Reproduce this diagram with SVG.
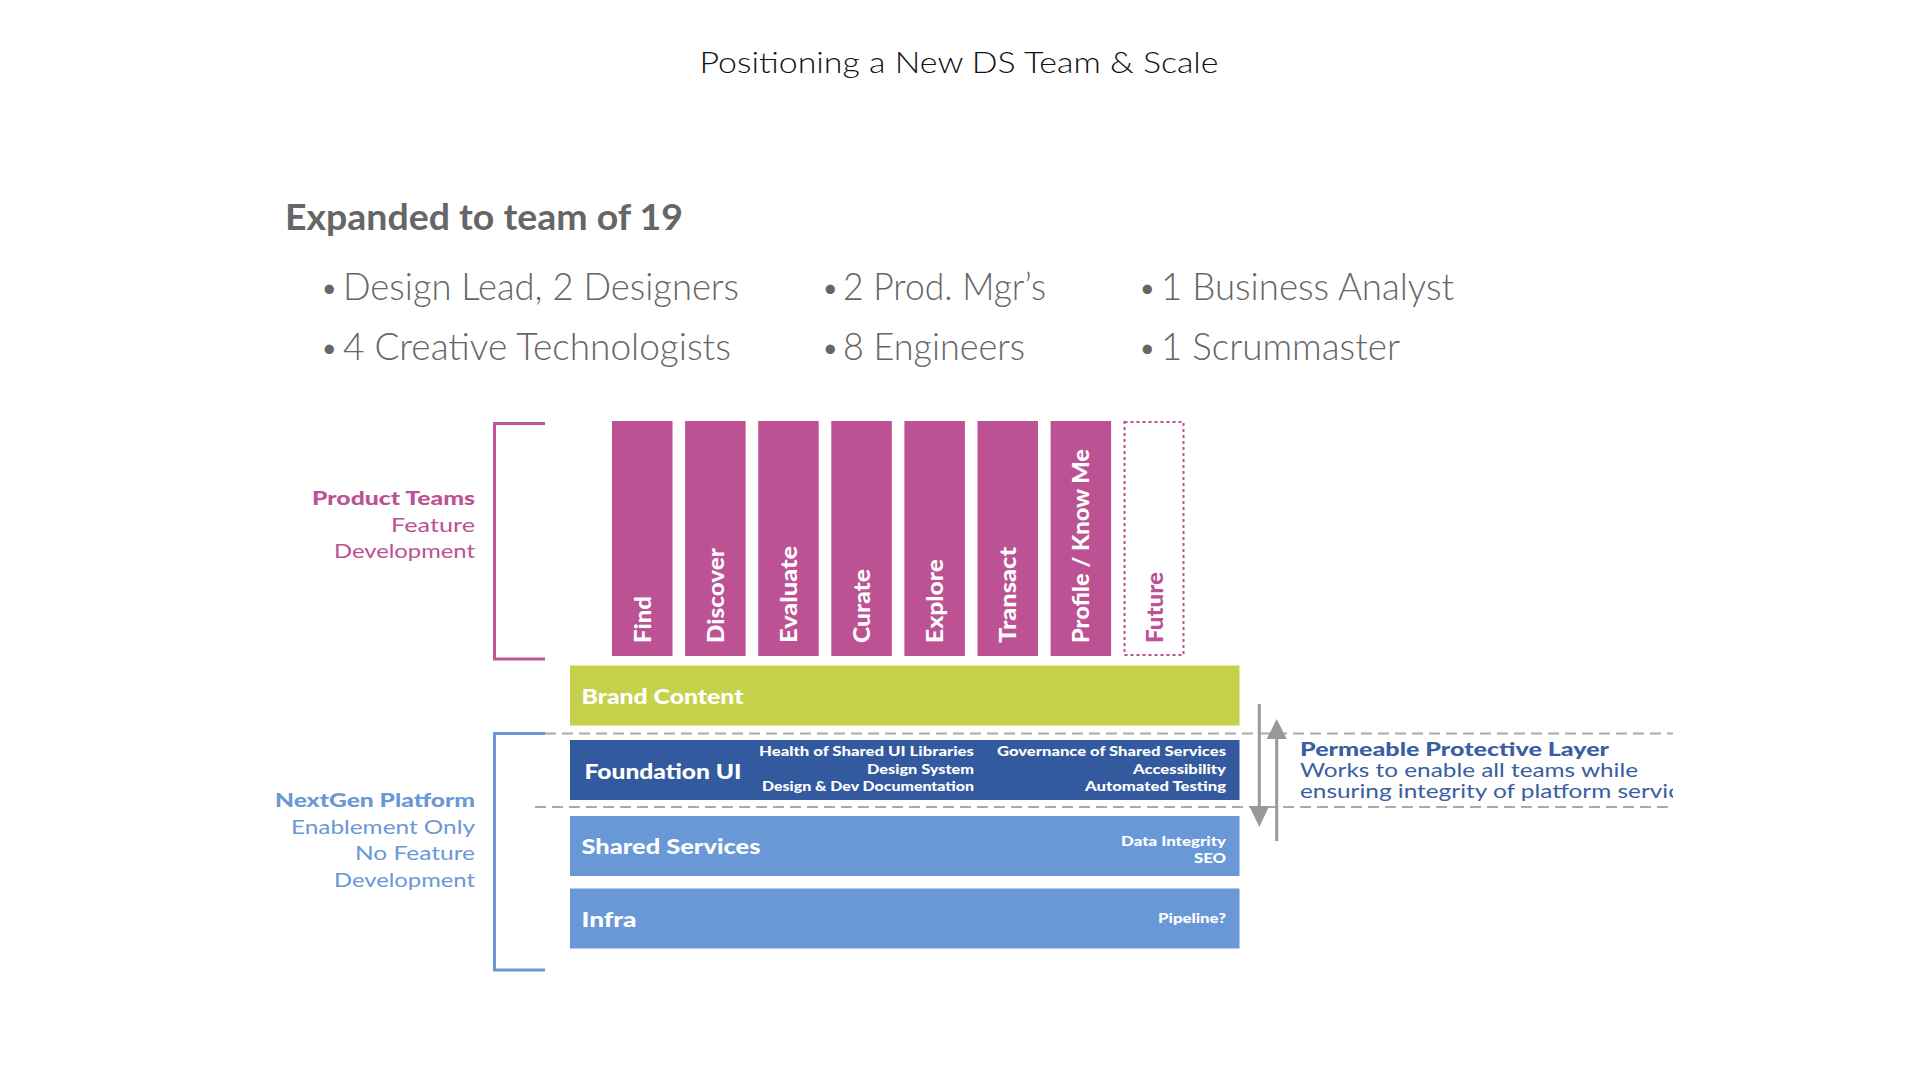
<svg xmlns="http://www.w3.org/2000/svg" width="1918" height="1080" viewBox="0 0 1918 1080">
<style>
.title{font-family:Lato,"Liberation Sans",sans-serif;font-weight:300;font-size:30px;fill:#111}
.head{font-family:Lato,"Liberation Sans",sans-serif;font-weight:700;font-size:37px;fill:#666}
.bul{font-family:Lato,"Liberation Sans",sans-serif;font-weight:300;font-size:38px;fill:#666}
.dot{font-family:Lato,"Liberation Sans",sans-serif;font-weight:400;font-size:25px;fill:#666}
.bar{fill:#BC5194}
.barlbl{font-family:Lato,"Liberation Sans",sans-serif;font-weight:900;font-size:23.5px;fill:#fff}
.futlbl{font-family:Lato,"Liberation Sans",sans-serif;font-weight:900;font-size:23.5px;fill:#BC5194}
.lyr{font-family:Lato,"Liberation Sans",sans-serif;font-weight:900;font-size:21px;fill:#fff}
.det{font-family:Lato,"Liberation Sans",sans-serif;font-weight:900;font-size:12.5px;fill:#fff}
.pLbl{font-family:Lato,"Liberation Sans",sans-serif;font-size:19px}
.bold{font-weight:900}
.light{font-weight:400}
.dash{stroke:#aaa;stroke-width:2;stroke-dasharray:11 6;fill:none}
.arr{stroke:#999;stroke-width:3;fill:none}
.perm{font-family:Lato,"Liberation Sans",sans-serif;font-size:19px;fill:#3A5DA3}
</style>
<defs>
<clipPath id="clipR"><rect x="0" y="0" width="1673" height="1080"/></clipPath>
</defs>
<rect width="1918" height="1080" fill="#fff"/>

<text class="title" x="959" y="73" text-anchor="middle" textLength="519" lengthAdjust="spacingAndGlyphs">Positioning a New DS Team &amp; Scale</text>

<g id="team">
<text class="head" x="285" y="230" textLength="398" lengthAdjust="spacingAndGlyphs">Expanded to team of 19</text>
<text class="dot" x="322" y="297">•</text>
<text class="bul" x="343" y="300" textLength="396" lengthAdjust="spacingAndGlyphs">Design Lead, 2 Designers</text>
<text class="dot" x="823" y="297">•</text>
<text class="bul" x="843" y="300" textLength="203" lengthAdjust="spacingAndGlyphs">2 Prod. Mgr’s</text>
<text class="dot" x="1140" y="297">•</text>
<text class="bul" x="1161" y="300" textLength="293" lengthAdjust="spacingAndGlyphs">1 Business Analyst</text>
<text class="dot" x="322" y="357">•</text>
<text class="bul" x="343" y="360" textLength="388" lengthAdjust="spacingAndGlyphs">4 Creative Technologists</text>
<text class="dot" x="823" y="357">•</text>
<text class="bul" x="843" y="360" textLength="182" lengthAdjust="spacingAndGlyphs">8 Engineers</text>
<text class="dot" x="1140" y="357">•</text>
<text class="bul" x="1161" y="360" textLength="239" lengthAdjust="spacingAndGlyphs">1 Scrummaster</text>
</g>

<g id="product-teams-label">
<path d="M545,423.5 H494.5 V659 H545" stroke="#BF5598" stroke-width="3" fill="none"/>
<g class="pLbl" fill="#BC5194">
<text class="bold" x="312" y="505" textLength="163" lengthAdjust="spacingAndGlyphs">Product Teams</text>
<text class="light" x="391" y="531.5" textLength="84" lengthAdjust="spacingAndGlyphs">Feature</text>
<text class="light" x="334" y="558" textLength="141" lengthAdjust="spacingAndGlyphs">Development</text>
</g>
</g>

<g id="bar-find"><rect class="bar" x="612" y="421" width="60.5" height="235"/><text class="barlbl" transform="translate(650.5,643) rotate(-90)" textLength="47" lengthAdjust="spacingAndGlyphs">Find</text></g>
<g id="bar-discover"><rect class="bar" x="685.1" y="421" width="60.5" height="235"/><text class="barlbl" transform="translate(723.6,643) rotate(-90)" textLength="95" lengthAdjust="spacingAndGlyphs">Discover</text></g>
<g id="bar-evaluate"><rect class="bar" x="758.2" y="421" width="60.5" height="235"/><text class="barlbl" transform="translate(796.7,643) rotate(-90)" textLength="97" lengthAdjust="spacingAndGlyphs">Evaluate</text></g>
<g id="bar-curate"><rect class="bar" x="831.3" y="421" width="60.5" height="235"/><text class="barlbl" transform="translate(869.8,643) rotate(-90)" textLength="74" lengthAdjust="spacingAndGlyphs">Curate</text></g>
<g id="bar-explore"><rect class="bar" x="904.4" y="421" width="60.5" height="235"/><text class="barlbl" transform="translate(942.9,643) rotate(-90)" textLength="84" lengthAdjust="spacingAndGlyphs">Explore</text></g>
<g id="bar-transact"><rect class="bar" x="977.5" y="421" width="60.5" height="235"/><text class="barlbl" transform="translate(1016,643) rotate(-90)" textLength="96" lengthAdjust="spacingAndGlyphs">Transact</text></g>
<g id="bar-profile"><rect class="bar" x="1050.6" y="421" width="60.5" height="235"/><text class="barlbl" transform="translate(1089.1,643) rotate(-90)" textLength="194" lengthAdjust="spacingAndGlyphs">Profile / Know Me</text></g>
<g id="bar-future"><rect x="1124.5" y="422" width="59" height="233" fill="none" stroke="#BC5194" stroke-width="2" stroke-dasharray="3 3"/><text class="futlbl" transform="translate(1162.6,643) rotate(-90)" textLength="71" lengthAdjust="spacingAndGlyphs">Future</text></g>

<g id="brand-content"><rect x="570" y="665.5" width="669.5" height="60" fill="#C5D14A"/><text class="lyr" x="581.5" y="703.5" font-size="20" textLength="162" lengthAdjust="spacingAndGlyphs">Brand Content</text></g>

<g id="foundation-ui"><rect x="570" y="740" width="669.5" height="60" fill="#335A9E"/>
<text class="lyr" x="584.5" y="778.5" textLength="157" lengthAdjust="spacingAndGlyphs">Foundation UI</text>
<text class="det" x="759" y="756" textLength="215" lengthAdjust="spacingAndGlyphs">Health of Shared UI Libraries</text>
<text class="det" x="867" y="773.5" textLength="107" lengthAdjust="spacingAndGlyphs">Design System</text>
<text class="det" x="762" y="790.5" textLength="212" lengthAdjust="spacingAndGlyphs">Design &amp; Dev Documentation</text>
<text class="det" x="997" y="756" textLength="229" lengthAdjust="spacingAndGlyphs">Governance of Shared Services</text>
<text class="det" x="1133" y="773.5" textLength="93" lengthAdjust="spacingAndGlyphs">Accessibility</text>
<text class="det" x="1085" y="790.5" textLength="141" lengthAdjust="spacingAndGlyphs">Automated Testing</text>
</g>

<g id="shared-services"><rect x="570" y="816" width="669.5" height="60" fill="#6898D6"/>
<text class="lyr" x="581.5" y="853.5" textLength="179" lengthAdjust="spacingAndGlyphs">Shared Services</text>
<text class="det" x="1121" y="846" textLength="105" lengthAdjust="spacingAndGlyphs">Data Integrity</text>
<text class="det" x="1194" y="863" textLength="32" lengthAdjust="spacingAndGlyphs">SEO</text>
</g>

<g id="infra"><rect x="570" y="888.5" width="669.5" height="60" fill="#6898D6"/>
<text class="lyr" x="581.5" y="926.5" textLength="55" lengthAdjust="spacingAndGlyphs">Infra</text>
<text class="det" x="1158" y="922.5" textLength="68" lengthAdjust="spacingAndGlyphs">Pipeline?</text>
</g>

<g id="nextgen-label">
<path d="M545,733.5 H494.5 V970 H545" stroke="#6A98D6" stroke-width="3" fill="none"/>
<g class="pLbl" fill="#6A98D6">
<text class="bold" x="275" y="807" textLength="200" lengthAdjust="spacingAndGlyphs">NextGen Platform</text>
<text class="light" x="291" y="833.5" textLength="184" lengthAdjust="spacingAndGlyphs">Enablement Only</text>
<text class="light" x="355" y="860" textLength="120" lengthAdjust="spacingAndGlyphs">No Feature</text>
<text class="light" x="334" y="886.5" textLength="141" lengthAdjust="spacingAndGlyphs">Development</text>
</g>
</g>

<g id="connectors">
<line class="dash" x1="545" y1="733.5" x2="1673" y2="733.5"/>
<line class="dash" x1="535" y1="807" x2="1673" y2="807"/>
<line class="arr" x1="1259.3" y1="704" x2="1259.3" y2="808"/>
<polygon points="1249.3,806 1269.3,806 1259.3,827" fill="#999"/>
<line class="arr" x1="1276.7" y1="737" x2="1276.7" y2="841"/>
<polygon points="1266.7,739 1286.7,739 1276.7,719" fill="#999"/>
</g>

<g id="permeable-layer" clip-path="url(#clipR)">
<text class="perm" x="1300" y="756" font-weight="900" textLength="309" lengthAdjust="spacingAndGlyphs">Permeable Protective Layer</text>
<text class="perm" x="1300" y="777" font-weight="400" textLength="338" lengthAdjust="spacingAndGlyphs">Works to enable all teams while</text>
<text class="perm" x="1300" y="797.5" font-weight="400" textLength="403" lengthAdjust="spacingAndGlyphs">ensuring integrity of platform services</text>
</g>
</svg>
